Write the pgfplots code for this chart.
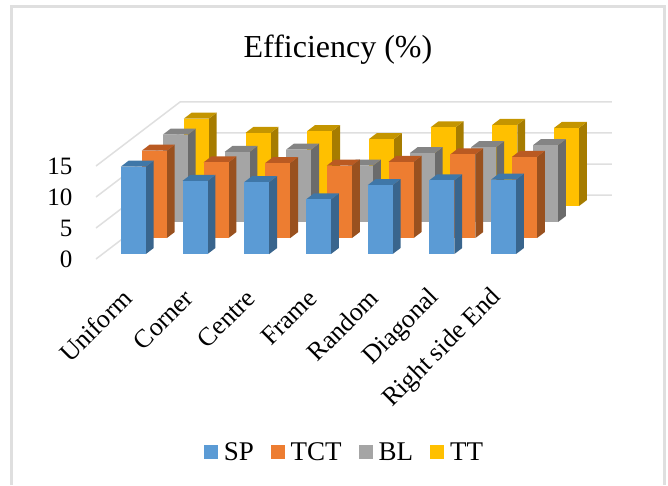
\documentclass[border=0pt]{standalone}
\usepackage{fontspec}
\setmainfont{Liberation Serif}
\usepackage{pgfplots}
\pgfplotsset{compat=1.18}
\definecolor{spF}{HTML}{5B9BD5}\definecolor{spT}{HTML}{3F77A8}\definecolor{spS}{HTML}{39658D}
\definecolor{tctF}{HTML}{ED7D31}\definecolor{tctT}{HTML}{BA5A22}\definecolor{tctS}{HTML}{99511F}
\definecolor{blF}{HTML}{A5A5A5}\definecolor{blT}{HTML}{848484}\definecolor{blS}{HTML}{6B6B6B}
\definecolor{ttF}{HTML}{FFC000}\definecolor{ttT}{HTML}{C49500}\definecolor{ttS}{HTML}{A67C00}
\definecolor{gridc}{HTML}{DFDFDF}
% one 3-D column: colour prefix, category index, series depth index, value
\newcommand{\colbar}[4]{%
  \pgfmathsetmacro{\xa}{#2+0.297}\pgfmathsetmacro{\xb}{#2+0.702}%
  \pgfmathsetmacro{\ya}{#3+0.31}\pgfmathsetmacro{\yb}{#3+0.685}%
  \addplot3[fill=#1S,draw=none,mark=none,forget plot] coordinates {(\xb,\ya,0)(\xb,\yb,0)(\xb,\yb,#4)(\xb,\ya,#4)};
  \addplot3[fill=#1T,draw=none,mark=none,forget plot] coordinates {(\xa,\ya,#4)(\xb,\ya,#4)(\xb,\yb,#4)(\xa,\yb,#4)};
  \addplot3[fill=#1F,draw=none,mark=none,forget plot] coordinates {(\xa,\ya,0)(\xb,\ya,0)(\xb,\ya,#4)(\xa,\ya,#4)};
}
\begin{document}
\begin{tikzpicture}[x=1pt,y=1pt]
\useasboundingbox (0,0) rectangle (668,485);
\draw[gridc,line width=3pt] (11.5,0) -- (11.5,478.5) -- (664,478.5) -- (664,0);
\begin{axis}[
  anchor=origin, at={(96pt,226pt)},
  x={(61.7pt,0pt)}, y={(21pt,16pt)}, z={(0pt,6.2pt)},
  xmin=0,xmax=7,ymin=0,ymax=4,zmin=0,zmax=15,
  clip=false,
  axis lines=left,
  axis line style={draw=none},
  major tick length=0pt,
  xtick={0.5,1.5,2.5,3.5,4.5,5.5,6.5},
  xticklabels={Uniform,Corner,Centre,Frame,Random,Diagonal,Right side End},
  ytick=\empty,
  ztick={0,5,10,15},
  /pgf/number format/assume math mode=true,
  tick label style={font=\fontsize{26}{30}\selectfont},
  xticklabel style={rotate=45,anchor=east,xshift=-21pt,yshift=-25pt},
  zticklabel style={anchor=east,xshift=-20pt,font=\fontsize{25}{30}\selectfont},
  title={Efficiency (\%)},
  title style={at={(0.469,1.293)},anchor=center,font=\fontsize{32}{36}\selectfont},
  legend columns=4,
  legend style={at={(0.4816,-1.229)},anchor=center,draw=none,fill=none,
    font=\fontsize{27}{30}\selectfont,/tikz/every even column/.style={column sep=15pt},
    /tikz/inner sep=1pt},
  legend image code/.code={\fill[#1] (0pt,-6.5pt) rectangle (13pt,6.5pt);\path (17.5pt,0pt);},
]
% gridlines: left wall and back wall
\addplot3[gridc,line width=1.5pt,mark=none,forget plot] coordinates {(0,0,15)(0,4,15)(7,4,15)};
\addplot3[gridc,line width=1.5pt,mark=none,forget plot] coordinates {(0,0,10)(0,4,10)(7,4,10)};
\addplot3[gridc,line width=1.5pt,mark=none,forget plot] coordinates {(0,0,5)(0,4,5)(7,4,5)};
\addplot3[gridc,line width=1.5pt,mark=none,forget plot] coordinates {(0,0,0)(0,4,0)(7,4,0)};
% TT (back row)
\colbar{tt}{0}{3}{14.1}\colbar{tt}{1}{3}{11.8}\colbar{tt}{2}{3}{12.1}\colbar{tt}{3}{3}{10.8}
\colbar{tt}{4}{3}{12.7}\colbar{tt}{5}{3}{13.1}\colbar{tt}{6}{3}{12.6}
% BL
\colbar{bl}{0}{2}{14.1}\colbar{bl}{1}{2}{11.3}\colbar{bl}{2}{2}{11.7}\colbar{bl}{3}{2}{9.1}
\colbar{bl}{4}{2}{11.1}\colbar{bl}{5}{2}{12.1}\colbar{bl}{6}{2}{12.4}
% TCT
\colbar{tct}{0}{1}{14.1}\colbar{tct}{1}{1}{12.2}\colbar{tct}{2}{1}{12.1}\colbar{tct}{3}{1}{11.7}
\colbar{tct}{4}{1}{12.3}\colbar{tct}{5}{1}{13.5}\colbar{tct}{6}{1}{13.1}
% SP (front row)
\colbar{sp}{0}{0}{14.1}\colbar{sp}{1}{0}{11.8}\colbar{sp}{2}{0}{11.6}\colbar{sp}{3}{0}{8.8}
\colbar{sp}{4}{0}{11.1}\colbar{sp}{5}{0}{11.9}\colbar{sp}{6}{0}{12.0}
\addlegendimage{spF}\addlegendentry{SP}
\addlegendimage{tctF}\addlegendentry{TCT}
\addlegendimage{blF}\addlegendentry{BL}
\addlegendimage{ttF}\addlegendentry{TT}
\end{axis}
\end{tikzpicture}
\end{document}
